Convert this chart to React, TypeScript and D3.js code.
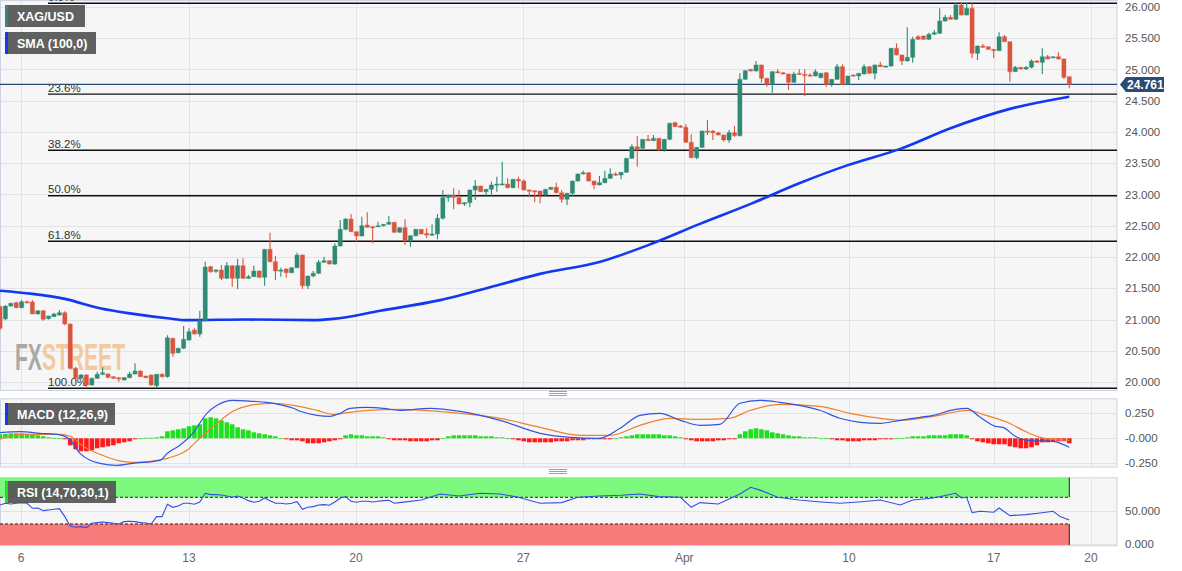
import React, { useEffect } from 'react';
import * as d3 from 'd3';

const opens = [21.205,21.01,21.216,21.269,21.189,21.285,21.28,21.088,21.141,21.013,21.045,21.072,21.109,20.928,20.219,20.06,20.112,19.952,20.059,20.123,20.128,20.085,20.069,20.032,20.069,20.128,20.176,20.096,20.112,19.941,20.123,20.085,20.699,20.469,20.539,20.672,20.832,20.768,20.98,21.845,21.77,21.792,21.659,21.861,21.659,21.861,21.659,21.685,21.776,21.675,22.123,21.925,21.776,21.808,21.749,21.829,22.032,21.541,21.696,21.739,21.915,21.941,21.888,22.176,22.443,22.608,22.405,22.336,22.512,22.485,22.485,22.501,22.523,22.555,22.395,22.469,22.256,22.341,22.443,22.379,22.352,22.368,22.619,22.949,22.992,22.949,22.848,22.869,23.072,23.136,23.045,23.083,23.152,23.165,23.168,23.109,23.243,23.216,23.072,23.061,23.056,22.992,23.083,23.115,23.029,22.923,23.019,23.216,23.328,23.349,23.216,23.152,23.189,23.259,23.328,23.312,23.355,23.579,23.765,23.739,23.883,23.861,23.899,23.712,23.883,24.149,24.096,24.075,23.835,23.589,23.755,24.016,24.016,23.989,23.952,23.872,23.989,23.941,24.843,25.003,24.976,25.072,24.859,24.763,24.965,24.949,24.928,24.795,24.939,24.923,24.912,24.896,24.869,24.949,24.763,24.843,25.045,24.763,24.912,24.896,24.928,25.045,24.939,25.072,25.045,25.056,25.339,25.232,25.136,25.195,25.525,25.536,25.483,25.563,25.579,25.776,25.835,25.803,26.032,25.872,25.979,25.259,25.376,25.365,25.323,25.301,25.525,25.445,24.965,25.035,25.008,25.035,25.136,25.115,25.205,25.189,25.205,25.168,24.885];
const closes = [20.86,21.216,21.259,21.189,21.285,21.27,21.088,21.141,21.003,21.056,21.088,21.109,20.928,20.219,20.06,20.112,19.952,20.059,20.123,20.149,20.075,20.059,20.048,20.069,20.128,20.176,20.085,20.069,19.952,20.123,20.085,20.709,20.459,20.539,20.683,20.805,20.768,20.98,21.84,21.765,21.79,21.659,21.861,21.659,21.861,21.659,21.685,21.776,21.675,22.123,21.925,21.776,21.792,21.749,21.829,22.032,21.541,21.696,21.739,21.915,21.941,21.888,22.176,22.443,22.608,22.405,22.336,22.501,22.475,22.475,22.501,22.523,22.555,22.395,22.469,22.256,22.341,22.443,22.368,22.352,22.368,22.619,22.949,22.992,22.955,22.848,22.869,23.072,23.136,23.045,23.083,23.152,23.168,23.17,23.109,23.243,23.216,23.072,23.061,23.056,22.992,23.083,23.115,23.029,22.923,23.019,23.216,23.328,23.349,23.216,23.152,23.189,23.259,23.328,23.312,23.355,23.579,23.765,23.712,23.883,23.861,23.899,23.712,23.883,24.139,24.085,24.075,23.835,23.589,23.755,24.016,24.005,23.989,23.952,23.872,23.989,23.941,24.843,24.981,24.976,25.072,24.859,24.763,24.965,24.949,24.928,24.795,24.928,24.923,24.912,24.896,24.965,24.939,24.763,24.843,25.045,24.763,24.896,24.896,24.939,25.045,24.939,25.072,25.045,25.056,25.339,25.232,25.136,25.195,25.483,25.483,25.483,25.563,25.589,25.776,25.835,25.803,26.032,25.872,25.979,25.259,25.376,25.355,25.323,25.301,25.525,25.445,24.965,25.035,25.008,25.035,25.136,25.115,25.205,25.168,25.205,25.168,24.875,24.761];
const highs = [21.23,21.23,21.27,21.285,21.312,21.30,21.312,21.15,21.15,21.06,21.109,21.152,21.131,20.935,20.24,20.128,20.128,20.07,20.165,20.235,20.14,20.09,20.075,20.08,20.165,20.30,20.19,20.10,20.12,20.13,20.14,20.75,20.71,20.55,20.896,20.859,20.86,21.141,21.925,21.86,21.81,21.872,21.915,21.87,21.968,21.979,21.712,21.861,21.79,22.13,22.389,22.016,21.829,21.82,21.84,22.069,22.04,21.70,21.776,21.952,22.005,21.95,22.219,22.592,22.62,22.688,22.41,22.645,22.715,22.49,22.565,22.53,22.656,22.56,22.475,22.603,22.35,22.45,22.45,22.459,22.523,22.688,23.072,23.0,23.099,23.072,22.875,23.08,23.232,23.14,23.09,23.205,23.285,23.525,23.259,23.25,23.285,23.243,23.08,23.07,23.06,23.09,23.12,23.189,23.072,23.03,23.22,23.335,23.381,23.355,23.22,23.296,23.381,23.419,23.355,23.36,23.585,23.803,23.936,23.89,23.952,23.952,23.905,23.89,24.15,24.165,24.112,24.128,23.963,23.76,24.02,24.192,24.032,24.005,23.96,24.032,24.096,24.939,24.992,25.01,25.136,25.08,24.87,24.975,25.003,24.955,24.935,24.965,25.003,25.003,24.939,25.003,24.949,24.955,24.85,25.088,25.083,24.90,24.92,24.945,25.083,25.05,25.08,25.125,25.06,25.345,25.419,25.24,25.675,25.525,25.552,25.545,25.589,25.632,25.979,25.872,25.872,26.069,26.069,26.069,26.059,25.385,25.408,25.37,25.33,25.595,25.552,25.45,25.056,25.04,25.056,25.163,25.152,25.339,25.232,25.21,25.275,25.175,24.89];
const lows = [20.83,20.99,21.20,21.18,21.18,21.26,21.088,21.08,20.981,21.00,21.04,21.06,20.907,20.21,20.032,20.05,19.925,19.94,20.05,20.11,20.06,20.05,20.005,20.02,20.06,20.12,20.08,20.06,19.941,19.909,20.07,20.07,20.405,20.46,20.53,20.66,20.76,20.725,20.97,21.75,21.75,21.632,21.65,21.525,21.488,21.65,21.65,21.68,21.67,21.541,21.915,21.632,21.685,21.669,21.74,21.82,21.488,21.488,21.675,21.73,21.91,21.88,21.872,22.17,22.43,22.40,22.245,22.33,22.47,22.219,22.48,22.49,22.52,22.39,22.39,22.192,22.165,22.33,22.36,22.299,22.34,22.283,22.60,22.885,22.763,22.84,22.816,22.795,22.912,23.04,22.965,22.965,23.045,23.16,23.10,23.10,23.099,23.065,22.955,22.875,22.859,22.98,23.075,23.02,22.869,22.832,22.965,23.21,23.32,23.21,23.083,23.145,23.18,23.25,23.30,23.243,23.35,23.57,23.445,23.73,23.855,23.855,23.705,23.685,23.87,24.08,24.07,23.83,23.58,23.563,23.75,23.952,23.872,23.945,23.845,23.829,23.925,23.93,24.835,24.97,24.97,24.789,24.725,24.629,24.94,24.92,24.672,24.789,24.915,24.576,24.89,24.89,24.86,24.725,24.725,24.835,24.755,24.763,24.89,24.832,24.92,24.93,24.843,25.04,25.035,25.045,25.225,25.072,25.13,25.109,25.472,25.475,25.475,25.555,25.57,25.766,25.795,25.795,25.865,25.865,25.179,25.152,25.35,25.315,25.179,25.295,25.44,24.805,24.96,25.0,24.992,25.019,25.11,24.928,25.163,25.18,25.16,24.848,24.699];

const smaPoints: [number, number][] = [[0,21.46],[6,21.41],[12,21.33],[18.5,21.18],[24.7,21.09],[31,21.02],[34.6,20.99],[45.7,21.0],[58,20.99],[61.7,21.01],[70.4,21.14],[81.5,21.31],[92.6,21.56],[100,21.73],[111,21.92],[120,22.19],[129.6,22.53],[139,22.85],[148,23.18],[157,23.47],[166.7,23.73],[176,24.06],[187,24.37],[198,24.565]];

const macdHist = [0.04,0.045,0.05,0.05,0.05,0.045,0.04,0.03,0.02,0.01,0.005,0.0,-0.01,-0.07,-0.11,-0.13,-0.13,-0.12,-0.1,-0.09,-0.08,-0.07,-0.05,-0.04,-0.03,-0.01,0.0,0.005,0.005,0.01,0.02,0.07,0.08,0.09,0.1,0.12,0.13,0.14,0.2,0.21,0.2,0.18,0.16,0.14,0.11,0.09,0.08,0.06,0.05,0.04,0.03,0.02,0.0,-0.01,-0.02,-0.02,-0.03,-0.05,-0.05,-0.05,-0.04,-0.03,-0.02,-0.01,0.03,0.04,0.03,0.03,0.02,0.02,0.02,0.01,-0.01,-0.02,-0.02,-0.02,-0.03,-0.03,-0.03,-0.03,-0.02,-0.02,0.0,0.02,0.03,0.03,0.03,0.03,0.03,0.02,0.02,0.02,0.01,0.01,0.0,-0.01,-0.02,-0.03,-0.04,-0.04,-0.04,-0.04,-0.04,-0.03,-0.03,-0.03,-0.02,-0.02,-0.02,-0.01,-0.01,-0.01,-0.01,-0.01,0.0,0.01,0.02,0.03,0.04,0.04,0.04,0.04,0.04,0.03,0.03,0.02,0.01,-0.01,-0.02,-0.03,-0.03,-0.03,-0.03,-0.02,-0.02,-0.01,-0.01,0.04,0.07,0.09,0.1,0.09,0.08,0.06,0.05,0.04,0.03,0.02,0.02,0.01,0.01,0.01,0.0,0.0,-0.01,-0.02,-0.02,-0.03,-0.03,-0.03,-0.02,-0.02,-0.02,-0.01,-0.01,-0.01,0.0,0.0,0.01,0.02,0.02,0.02,0.03,0.03,0.03,0.03,0.04,0.04,0.04,0.03,-0.01,-0.03,-0.04,-0.05,-0.06,-0.06,-0.06,-0.08,-0.09,-0.1,-0.1,-0.09,-0.07,-0.04,-0.04,-0.03,-0.03,-0.03,-0.05];
const macdLine: [number, number][] = [[0,0.056],[3.7,0.066],[7.4,0.05],[11.1,0.035],[13,-0.017],[14.8,-0.15],[16.7,-0.22],[18.5,-0.25],[21.7,-0.27],[24.6,-0.25],[29.6,-0.22],[31,-0.15],[33.3,-0.07],[35.7,0.05],[38.3,0.25],[40.2,0.33],[43.1,0.38],[46.9,0.37],[49.4,0.36],[52.4,0.33],[54.3,0.30],[55.6,0.27],[58.7,0.23],[61.1,0.22],[63,0.25],[64.8,0.30],[68,0.31],[71,0.30],[74,0.28],[79.6,0.30],[85.2,0.27],[92.6,0.18],[100,0.05],[105.6,0.01],[111,0.0],[114.8,0.1],[118.5,0.23],[122.2,0.25],[126,0.18],[129.6,0.13],[133.3,0.14],[137,0.35],[140.7,0.38],[144.4,0.36],[148,0.33],[151.8,0.28],[155.5,0.2],[159.3,0.16],[163,0.15],[166.7,0.18],[170.4,0.21],[172.8,0.23],[176.9,0.29],[179,0.30],[181.5,0.21],[184.3,0.12],[185.7,0.11],[188,0.02],[190.2,-0.02],[195,-0.03],[198,-0.09]];
const macdSignal: [number, number][] = [[0,-0.01],[3.7,0.04],[11.1,0.04],[13,0.02],[15.4,-0.08],[18.5,-0.16],[21.7,-0.22],[24.6,-0.24],[27.8,-0.23],[31,-0.20],[34.6,-0.12],[37,0.0],[40.2,0.15],[43.1,0.27],[46.3,0.33],[50.6,0.35],[54.3,0.33],[58.7,0.28],[61.7,0.24],[64.8,0.26],[68,0.28],[74,0.29],[83.3,0.26],[92.6,0.20],[100,0.11],[107.4,0.03],[113,0.03],[118.5,0.13],[124,0.2],[129.6,0.19],[135,0.2],[139,0.28],[144.4,0.34],[151.8,0.32],[157.4,0.25],[163,0.2],[166.7,0.18],[172.8,0.22],[179.3,0.28],[182,0.24],[186.5,0.16],[190.2,0.06],[192.6,0.01],[195,-0.01],[198,-0.02]];

const rsiPoints: [number, number][] = [[0,58.5],[1,61],[2,60],[3,61],[4,62],[5,61],[6,53.5],[7,54],[8,50],[9,51],[10,52],[11,53],[12,41],[13,27],[14,25],[15,26],[16,24.5],[17,31],[18,32],[19,33],[20,32],[21,31],[22,30],[23,33.5],[24,34],[25,33.5],[26,32],[27,31.5],[28,30],[29,41],[30,41],[31,59.5],[32,55],[33,57],[34,61],[35,61],[36,59.5],[37,63],[38,76],[39,74],[40,74],[41,73.5],[42,72],[43,70],[44,72],[45,69],[46,65],[47,62.5],[48,64],[49,69],[50,65],[51,61],[52,61],[53,60],[54,61],[55,63.5],[56,52],[57,55],[58,56],[59,58.5],[60,59],[61,58],[62,63],[63,69],[64,71],[65,64],[66,62.5],[67,64],[68,64],[69,63],[70,64],[71,65],[72,65.5],[73,61],[74,62],[78,66],[81.5,75],[85,72],[89,76],[92.6,75],[96,70],[100,61],[104,62],[107,70],[111,72],[115,73],[118.5,75],[122,71],[126,70],[128,55],[129.6,62],[133,60],[137,75],[139,85],[141,80],[144,70],[148,66],[152,63],[155.5,61],[159,63],[163,66],[166.7,58.5],[169,66],[172.8,69],[174.6,72],[176.9,76],[178,69],[179,70],[180,47],[181.5,49],[184,47.5],[185,54],[187,42.5],[190,44],[192.6,46.5],[195,49],[196.3,41],[198,36]];

const priceTicks = [20, 20.5, 21, 21.5, 22, 22.5, 23, 23.5, 24, 24.5, 25, 25.5, 26];
const macdTicks = [0.25, 0, -0.25];
const macdTickLabels = ['0.250', '-0.000', '-0.250'];
const rsiTicks = [50, 0];
const rsiTickLabels = ['50.000', '0.000'];
const dateTickIdx = [3.9, 35, 65.9, 96.9, 126.7, 157.2, 184, 202];
const dateTickLabels = ['6', '13', '20', '27', 'Apr', '10', '17', '20'];
const fibPrices = [26.06, 24.606, 23.707, 22.98, 22.253, 19.9];
const fibLabels = ['0.0%', '23.6%', '38.2%', '50.0%', '61.8%', '100.0%'];
const lastPrice = 24.761;

const FONT = '"Liberation Sans", Arial, Helvetica, sans-serif';
const GREEN = '#2f8a74';
const RED = '#d9553f';

export default function App() {
  useEffect(() => {
    document.body.style.margin = '0';
  }, []);
  const W = 1182, H = 571;
  const plotR = 1117;
  const x = d3.scaleLinear().domain([0, 198]).range([0, 1069.3]);
  const y = d3.scaleLinear().domain([19.872, 26.112]).range([390, 0]);
  const ym = d3.scaleLinear().domain([-0.282, 0.40]).range([466.5, 398.3]);
  const yr = d3.scaleLinear().domain([-2, 100]).range([545.3, 477.3]);
  const bw = 4.2;
  const hw = 4.6;

  const smaPath = d3.line<[number, number]>().x(d => x(d[0])).y(d => y(d[1])).curve(d3.curveMonotoneX)(smaPoints) || '';
  const macdPath = d3.line<[number, number]>().x(d => x(d[0])).y(d => ym(d[1])).curve(d3.curveMonotoneX)(macdLine) || '';
  const sigPath = d3.line<[number, number]>().x(d => x(d[0])).y(d => ym(d[1])).curve(d3.curveMonotoneX)(macdSignal) || '';
  const rsiPath = d3.line<[number, number]>().x(d => x(d[0])).y(d => yr(d[1]))(rsiPoints) || '';

  const lastX = x(opens.length - 1);
  const panels = [
    { top: 0, bottom: 390 },
    { top: 398.3, bottom: 466.5 },
    { top: 477.3, bottom: 545.3 },
  ];
  const gridColor = '#e3e3e3';
  const grip = (cy: number) => (
    <g stroke="#9aa0a8" strokeWidth={1}>
      <line x1={549} x2={567} y1={cy - 2} y2={cy - 2} />
      <line x1={549} x2={567} y1={cy} y2={cy} />
      <line x1={549} x2={567} y1={cy + 2} y2={cy + 2} />
    </g>
  );
  const legend = (yy: number, w: number, label: string, color: string) => (
    <g>
      <rect x={5} y={yy} width={w} height={22} fill="#555" opacity={0.93} />
      <rect x={5} y={yy} width={3} height={22} fill={color} />
      <text x={17} y={yy + 15.5} fill="#fff" fontFamily={FONT} fontWeight="bold" fontSize={12.5}>{label}</text>
    </g>
  );

  return (
    <div style={{ position: 'absolute', left: 0, top: 0 }}>
      <svg width={W} height={H} style={{ display: 'block', background: '#fff' }}>
        <defs>
          <clipPath id="cMain"><rect x={0} y={0} width={plotR} height={390} /></clipPath>
          <clipPath id="cMacd"><rect x={0} y={398.3} width={plotR} height={68.2} /></clipPath>
          <clipPath id="cRsi"><rect x={0} y={477.3} width={plotR} height={68} /></clipPath>
        </defs>
        {panels.map((p, i) => (
          <rect key={i} x={0.5} y={p.top + 0.5} width={plotR - 0.5} height={p.bottom - p.top} fill="#f6f6f6" stroke="#cdd3e0" strokeWidth={1} />
        ))}
        {/* vertical grid */}
        {panels.map((p, pi) => dateTickIdx.map((t, i) => (
          <line key={`v${pi}-${i}`} x1={Math.round(x(t)) + 0.5} x2={Math.round(x(t)) + 0.5} y1={p.top + 1} y2={p.bottom} stroke={gridColor} strokeWidth={1} />
        )))}
        {/* horizontal grid */}
        {priceTicks.map((t, i) => (
          <line key={`h${i}`} x1={1} x2={plotR} y1={Math.round(y(t)) + 0.5} y2={Math.round(y(t)) + 0.5} stroke={gridColor} />
        ))}
        {macdTicks.map((t, i) => (
          <line key={`hm${i}`} x1={1} x2={plotR} y1={Math.round(ym(t)) + 0.5} y2={Math.round(ym(t)) + 0.5} stroke={gridColor} />
        ))}
        {rsiTicks.map((t, i) => (
          <line key={`hr${i}`} x1={1} x2={plotR} y1={Math.round(yr(t)) + 0.5} y2={Math.round(yr(t)) + 0.5} stroke={gridColor} />
        ))}

        {/* watermark */}
        <text x={15} y={370} fontFamily={FONT} fontWeight="bold" fontSize={37} textLength={110} lengthAdjust="spacingAndGlyphs" opacity={0.85}>
          <tspan fill="#9c9c9c">FX</tspan><tspan fill="#f2c38c">STREET</tspan>
        </text>

        <g clipPath="url(#cMain)">
          {/* fib lines */}
          {fibPrices.map((p, i) => (
            <g key={`f${i}`}>
              <line x1={48} x2={plotR} y1={y(p)} y2={y(p)} stroke="#111" strokeWidth={1.4} />
              <text x={48} y={y(p) - 2.5} fontFamily={FONT} fontSize={11.5} fill="#333">{fibLabels[i]}</text>
            </g>
          ))}
          {/* last price line */}
          <line x1={0} x2={plotR} y1={y(lastPrice)} y2={y(lastPrice)} stroke="#2b4b75" strokeWidth={1.2} />
          {/* SMA */}
          <path d={smaPath} fill="none" stroke="#1238f0" strokeWidth={2.6} />
          {/* candles */}
          {opens.map((o, i) => {
            const c = closes[i];
            const col = c >= o ? GREEN : RED;
            const cx = x(i);
            const top = y(Math.max(o, c));
            const bot = y(Math.min(o, c));
            return (
              <g key={`c${i}`}>
                <line x1={cx} x2={cx} y1={y(highs[i])} y2={y(lows[i])} stroke={col} strokeWidth={1.1} />
                <rect x={cx - bw / 2} y={top} width={bw} height={Math.max(1.2, bot - top)} fill={col} stroke={col} strokeOpacity={0.35} strokeWidth={1} />
              </g>
            );
          })}
        </g>

        {/* MACD panel */}
        <g clipPath="url(#cMacd)">
          {macdHist.map((v, i) => (
            <rect key={`mh${i}`} x={x(i) - hw / 2} y={Math.min(ym(v), ym(0))} width={hw} height={Math.max(0.8, Math.abs(ym(v) - ym(0)))} fill={v >= 0 ? '#1ee01e' : '#ff1a1a'} />
          ))}
          <path d={sigPath} fill="none" stroke="#f0802a" strokeWidth={1.2} />
          <path d={macdPath} fill="none" stroke="#2f55e0" strokeWidth={1.2} />
        </g>

        {/* RSI panel */}
        <g clipPath="url(#cRsi)">
          <rect x={0} y={yr(100)} width={lastX} height={yr(70) - yr(100)} fill="#7cf87c" />
          <rect x={0} y={yr(30)} width={lastX} height={yr(-2) - yr(30)} fill="#f87b7b" />
          <line x1={0} x2={lastX} y1={yr(70)} y2={yr(70)} stroke="#222" strokeWidth={1} strokeDasharray="3,2" />
          <line x1={0} x2={lastX} y1={yr(30)} y2={yr(30)} stroke="#222" strokeWidth={1} strokeDasharray="3,2" />
          <line x1={lastX} x2={lastX} y1={yr(100)} y2={yr(70)} stroke="#222" strokeWidth={1} />
          <line x1={lastX} x2={lastX} y1={yr(30)} y2={yr(-2)} stroke="#222" strokeWidth={1} />
          <path d={rsiPath} fill="none" stroke="#3050e0" strokeWidth={1.1} />
        </g>

        {/* legends */}
        {legend(5, 80, 'XAG/USD', '#2f8a74')}
        {legend(32, 91, 'SMA (100,0)', '#1238f0')}
        {legend(403, 110, 'MACD (12,26,9)', '#1238f0')}
        {legend(481, 111, 'RSI (14,70,30,1)', '#22dd22')}

        {grip(393.5)}
        {grip(471.5)}

        {/* right axis labels */}
        {priceTicks.map((t, i) => (
          <text key={`pt${i}`} x={1125} y={y(t) + 4} fontFamily={FONT} fontSize={11.5} fill="#555">{t.toFixed(3)}</text>
        ))}
        {macdTicks.map((t, i) => (
          <text key={`mt${i}`} x={1125} y={ym(t) + 4} fontFamily={FONT} fontSize={11.5} fill="#555">{macdTickLabels[i]}</text>
        ))}
        {rsiTicks.map((t, i) => (
          <text key={`rt${i}`} x={1125} y={yr(t) + 4} fontFamily={FONT} fontSize={11.5} fill="#555">{rsiTickLabels[i]}</text>
        ))}
        {/* last price tag */}
        <g>
          <path d={`M1120,${y(lastPrice)} L1126,${y(lastPrice) - 7.5} L1164,${y(lastPrice) - 7.5} L1164,${y(lastPrice) + 7.5} L1126,${y(lastPrice) + 7.5} Z`} fill="#2b4b75" />
          <text x={1127} y={y(lastPrice) + 4.3} fontFamily={FONT} fontSize={12} fontWeight="bold" fill="#fff">{lastPrice.toFixed(3)}</text>
        </g>

        {/* date axis */}
        {dateTickIdx.map((t, i) => (
          <text key={`dt${i}`} x={x(t)} y={562} textAnchor="middle" fontFamily={FONT} fontSize={12} fill="#666">{dateTickLabels[i]}</text>
        ))}
      </svg>
    </div>
  );
}
